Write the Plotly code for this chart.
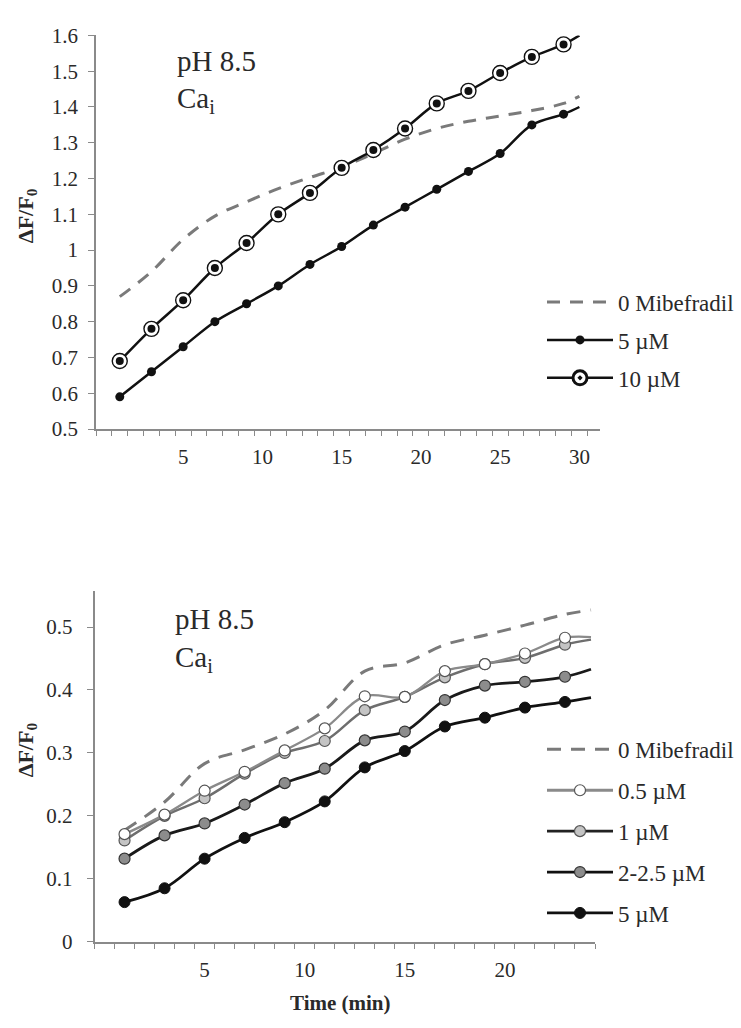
import plotly.graph_objects as go

# ---- data: upper panel (time in min, ΔF/F0) ----
time_top = [1, 3, 5, 7, 9, 11, 13, 15, 17, 19, 21, 23, 25, 27, 29, 30]
ctrl_top = [0.87, 0.94, 1.03, 1.095, 1.135, 1.172, 1.203, 1.232, 1.27, 1.31,
            1.34, 1.36, 1.375, 1.39, 1.41, 1.43]
mib5_top = [0.59, 0.66, 0.73, 0.80, 0.85, 0.90, 0.96, 1.01, 1.07, 1.12,
            1.17, 1.22, 1.27, 1.35, 1.38, 1.40]
mib10_top = [0.69, 0.78, 0.86, 0.95, 1.02, 1.10, 1.16, 1.23, 1.28, 1.34,
             1.41, 1.445, 1.495, 1.54, 1.575, 1.60]

# ---- data: lower panel ----
time_bot = [1, 3, 5, 7, 9, 11, 13, 15, 17, 19, 21, 23, 24.3]
ctrl_bot = [0.177, 0.222, 0.283, 0.305, 0.330, 0.368, 0.430, 0.443, 0.472,
            0.487, 0.503, 0.520, 0.527]
mib05_bot = [0.171, 0.202, 0.240, 0.270, 0.304, 0.339, 0.390, 0.389, 0.430,
             0.441, 0.458, 0.483, 0.484]
mib1_bot = [0.161, 0.200, 0.228, 0.267, 0.300, 0.319, 0.368, 0.389, 0.420,
            0.441, 0.451, 0.472, 0.480]
mib2_bot = [0.132, 0.169, 0.188, 0.218, 0.252, 0.275, 0.320, 0.334, 0.384,
            0.407, 0.413, 0.421, 0.433]
mib5_bot = [0.063, 0.085, 0.132, 0.165, 0.190, 0.223, 0.277, 0.303, 0.342,
            0.356, 0.372, 0.381, 0.388]

top_ticks = [5, 10, 15, 20, 25, 30]
bot_ticks = [5, 10, 15, 20]
top_yticks = [0.5, 0.6, 0.7, 0.8, 0.9, 1.0, 1.1, 1.2, 1.3, 1.4, 1.5, 1.6]
top_ytext = ["0.5", "0.6", "0.7", "0.8", "0.9", "1", "1.1", "1.2", "1.3", "1.4", "1.5", "1.6"]
bot_yticks = [0, 0.1, 0.2, 0.3, 0.4, 0.5]
bot_ytext = ["0", "0.1", "0.2", "0.3", "0.4", "0.5"]

SERIF = "Liberation Serif, Times New Roman, serif"
AXIS_GREY = "#8a8a8a"
TEXT = "#2a2a2a"
SMOOTH = 1.0

fig = go.Figure()


def line_trace(x, y, color, width, xa, ya, dash="solid"):
    return go.Scatter(x=x, y=y, mode="lines", xaxis=xa, yaxis=ya,
                      line=dict(color=color, width=width, dash=dash,
                                shape="spline", smoothing=SMOOTH),
                      showlegend=False, hoverinfo="skip")


def marker_trace(x, y, size, fill, edge, edge_w, xa, ya):
    return go.Scatter(x=x, y=y, mode="markers", xaxis=xa, yaxis=ya,
                      marker=dict(size=size, color=fill, symbol="circle",
                                  line=dict(color=edge, width=edge_w)),
                      showlegend=False, hoverinfo="skip")


def legend_entry(name, legend, rank, line, marker=None):
    mode = "lines+markers" if marker else "lines"
    kw = dict(marker=marker) if marker else {}
    return go.Scatter(x=[None], y=[None], mode=mode, name=name, legend=legend,
                      legendgroup=f"{legend}-{rank}", legendrank=rank, line=line,
                      xaxis="x", yaxis="y", **kw)


# ---- upper panel ----
dash_top = "13px,10px"
fig.add_trace(line_trace(time_top, ctrl_top, "#7a7a7a", 3, "x", "y", dash_top))
fig.add_trace(line_trace(time_top, mib5_top, "#111111", 2.5, "x", "y"))
fig.add_trace(marker_trace(time_top[:-1], mib5_top[:-1], 9, "#111111", "#111111", 0, "x", "y"))
fig.add_trace(line_trace(time_top, mib10_top, "#111111", 2.5, "x", "y"))
fig.add_trace(marker_trace(time_top[:-1], mib10_top[:-1], 15, "white", "#111111", 1.4, "x", "y"))
fig.add_trace(marker_trace(time_top[:-1], mib10_top[:-1], 8, "#111111", "#111111", 0, "x", "y"))

fig.add_trace(legend_entry("0 Mibefradil", "legend", 1,
                           dict(color="#7a7a7a", width=3, dash=dash_top)))
fig.add_trace(legend_entry("5 µM", "legend", 2, dict(color="#111111", width=2.5),
                           dict(size=9, color="#111111")))
fig.add_trace(legend_entry("10 µM", "legend", 3, dict(color="#111111", width=2.5),
                           dict(size=14, color="white", symbol="circle-dot",
                                line=dict(color="#111111", width=3))))

# ---- lower panel ----
dash_bot = "14px,10px"
fig.add_trace(line_trace(time_bot, ctrl_bot, "#7a7a7a", 3, "x2", "y2", dash_bot))
fig.add_trace(line_trace(time_bot, mib5_bot, "#111111", 2.8, "x2", "y2"))
fig.add_trace(marker_trace(time_bot[:-1], mib5_bot[:-1], 11, "#111111", "#111111", 1, "x2", "y2"))
fig.add_trace(line_trace(time_bot, mib2_bot, "#1a1a1a", 2.8, "x2", "y2"))
fig.add_trace(marker_trace(time_bot[:-1], mib2_bot[:-1], 11, "#8c8c8c", "#333333", 1.2, "x2", "y2"))
fig.add_trace(line_trace(time_bot, mib1_bot, "#6e6e6e", 2.5, "x2", "y2"))
fig.add_trace(marker_trace(time_bot[:-1], mib1_bot[:-1], 11, "#c4c4c4", "#555555", 1.2, "x2", "y2"))
fig.add_trace(line_trace(time_bot, mib05_bot, "#8a8a8a", 2.3, "x2", "y2"))
fig.add_trace(marker_trace(time_bot[:-1], mib05_bot[:-1], 11, "white", "#555555", 1.2, "x2", "y2"))

fig.add_trace(legend_entry("0 Mibefradil", "legend2", 1,
                           dict(color="#7a7a7a", width=3, dash=dash_bot)))
fig.add_trace(legend_entry("0.5 µM", "legend2", 2, dict(color="#8a8a8a", width=2.8),
                           dict(size=11, color="white", line=dict(color="#555555", width=1.2))))
fig.add_trace(legend_entry("1 µM", "legend2", 3, dict(color="#222222", width=2.8),
                           dict(size=11, color="#c4c4c4", line=dict(color="#555555", width=1.2))))
fig.add_trace(legend_entry("2-2.5 µM", "legend2", 4, dict(color="#111111", width=2.8),
                           dict(size=11, color="#8c8c8c", line=dict(color="#333333", width=1.2))))
fig.add_trace(legend_entry("5 µM", "legend2", 5, dict(color="#111111", width=2.8),
                           dict(size=11, color="#111111", line=dict(color="#111111", width=1))))

W, H = 741, 1028


def px(xp):
    return xp / W


def py(yp):
    return 1 - yp / H


xaxis_common = dict(
    showline=True, linecolor=AXIS_GREY, linewidth=1.5, showgrid=False, zeroline=False,
    tickmode="array", ticks="", ticklabelstandoff=8,
    tickfont=dict(family=SERIF, size=21, color=TEXT),
    minor=dict(tickmode="linear", tick0=0.5, dtick=1, ticks="outside", ticklen=5,
               tickcolor=AXIS_GREY, tickwidth=1, showgrid=False),
)
yaxis_common = dict(
    showline=True, linecolor=AXIS_GREY, linewidth=1.5, showgrid=False, zeroline=False,
    tickmode="array", ticks="outside", ticklen=6, tickcolor=AXIS_GREY, tickwidth=1,
    tickfont=dict(family=SERIF, size=21, color=TEXT),
)

legend_common = dict(
    font=dict(family=SERIF, size=23, color=TEXT), bgcolor="rgba(0,0,0,0)",
    itemwidth=66, itemclick=False, itemdoubleclick=False, traceorder="grouped",
    xanchor="left", yanchor="top",
)

fig.update_layout(
    width=W, height=H, margin=dict(l=0, r=0, t=0, b=0),
    paper_bgcolor="white", plot_bgcolor="white",
    showlegend=True,
    xaxis=dict(xaxis_common, domain=[px(96), px(600)], range=[-0.5, 31.3],
               tickvals=top_ticks, anchor="y"),
    yaxis=dict(yaxis_common, domain=[py(427), py(24)], range=[0.5, 1.6],
               tickvals=top_yticks, ticktext=top_ytext, anchor="x",
               ticklabelstandoff=6),
    xaxis2=dict(xaxis_common, domain=[px(94.5), px(595)], range=[-0.5, 24.5],
                tickvals=bot_ticks, anchor="y2"),
    yaxis2=dict(yaxis_common, domain=[py(952), py(593)], range=[0, 0.557],
                tickvals=bot_yticks, ticktext=bot_ytext, anchor="x2",
                ticklabelstandoff=10),
    legend=dict(legend_common, x=px(542), y=py(275), tracegroupgap=5),
    legend2=dict(legend_common, x=px(542), y=py(733), tracegroupgap=8),
    annotations=[
        dict(text="pH 8.5", x=px(175), y=py(50), xref="paper", yref="paper",
             xanchor="left", yanchor="middle", showarrow=False,
             font=dict(family=SERIF, size=29, color=TEXT)),
        dict(text="Ca<sub>i</sub>", x=px(175), y=py(90), xref="paper", yref="paper",
             xanchor="left", yanchor="middle", showarrow=False,
             font=dict(family=SERIF, size=29, color=TEXT)),
        dict(text="pH 8.5", x=px(173), y=py(622), xref="paper", yref="paper",
             xanchor="left", yanchor="middle", showarrow=False,
             font=dict(family=SERIF, size=29, color=TEXT)),
        dict(text="Ca<sub>i</sub>", x=px(173), y=py(662), xref="paper", yref="paper",
             xanchor="left", yanchor="middle", showarrow=False,
             font=dict(family=SERIF, size=29, color=TEXT)),
        dict(text="<b>ΔF/F<sub>0</sub></b>", x=px(27), y=py(208), xref="paper", yref="paper",
             xanchor="center", yanchor="middle", showarrow=False, textangle=-90,
             font=dict(family=SERIF, size=22, color=TEXT)),
        dict(text="<b>ΔF/F<sub>0</sub></b>", x=px(27), y=py(755), xref="paper", yref="paper",
             xanchor="center", yanchor="middle", showarrow=False, textangle=-90,
             font=dict(family=SERIF, size=22, color=TEXT)),
        dict(text="<b>Time (min)</b>", x=px(340), y=0, xref="paper", yref="paper",
             xanchor="center", yanchor="bottom", showarrow=False, borderpad=0,
             font=dict(family=SERIF, size=21, color=TEXT)),
    ],
)

fig.write_html("out.html")
